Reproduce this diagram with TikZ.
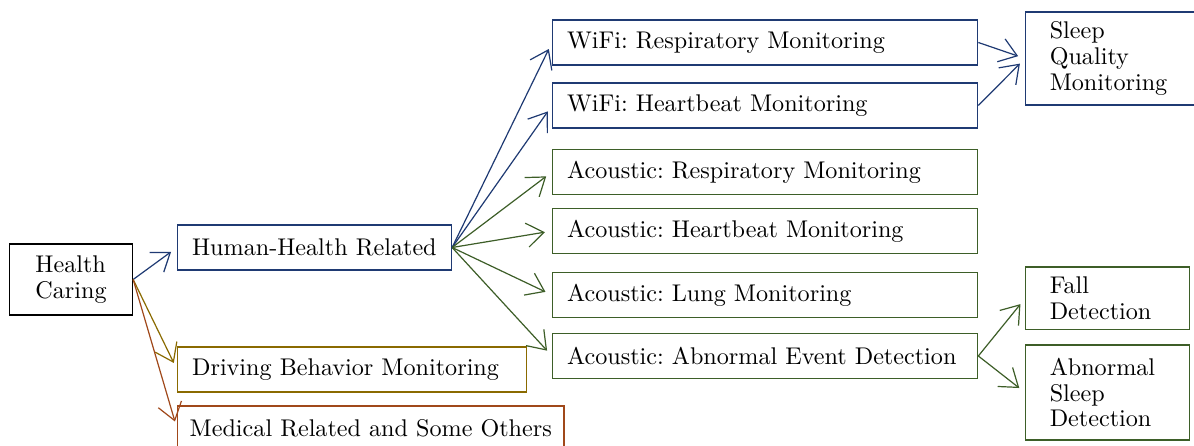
\documentclass[tikz,border=0pt]{standalone}
\usepackage{xcolor}
\usepackage{tikz}
\usetikzlibrary{positioning,arrows.meta}
\definecolor{hblue}{RGB}{31,58,115}
\definecolor{hgreen}{RGB}{61,94,40}
\definecolor{holive}{RGB}{138,106,0}
\definecolor{hbrown}{RGB}{160,72,26}
\begin{document}
\frenchspacing
\begin{tikzpicture}[x=0.414pt, y=-0.414pt, line width=0.5pt,
    box/.style={draw,rectangle,anchor=west,inner xsep=6pt,inner ysep=0pt,minimum height=18.6pt,align=left},
    wide/.style={box,text width=164pt},
    tall/.style={draw,rectangle,anchor=west,inner xsep=10pt,inner ysep=0pt,align=left,font=\fontsize{10}{10.7}\selectfont},
    link/.style={-{Straight Barb[length=7pt,width=10pt]},shorten >=3pt}]
    \useasboundingbox (0,0) rectangle (1194,446);

    \node[tall,text width=29.5pt,inner xsep=10.7pt,minimum height=29.4pt] (hc) at (9,279.5) {Health\\Caring};
    \node[box,hblue,text width=101.4pt] (hh) at (177,247.5) {\textcolor{black}{Human-Health Related}};
    \node[box,holive,text width=132.5pt] (drive) at (177,369.5) {\textcolor{black}{Driving Behavior Monitoring}};
    \node[box,hbrown,inner xsep=5pt] (med) at (177,428.5) {\textcolor{black}{Medical Related and Some Others}};

    \node[wide,hblue] (wr) at (552,42.5) {\textcolor{black}{WiFi: Respiratory Monitoring}};
    \node[wide,hblue] (wh) at (552,105.5) {\textcolor{black}{WiFi: Heartbeat Monitoring}};
    \node[wide,hgreen] (ar) at (552,172) {\textcolor{black}{Acoustic: Respiratory Monitoring}};
    \node[wide,hgreen] (ah) at (552,231) {\textcolor{black}{Acoustic: Heartbeat Monitoring}};
    \node[wide,hgreen] (al) at (552,295) {\textcolor{black}{Acoustic: Lung Monitoring}};
    \node[wide,hgreen] (ae) at (552,356) {\textcolor{black}{Acoustic: Abnormal Event Detection}};

    \node[tall,hblue,text width=52pt,minimum height=38.5pt] (sq) at (1025,58.5) {\textcolor{black}{Sleep\\Quality\\Monitoring}};
    \node[tall,hgreen,text width=48pt,minimum height=26pt] (fall) at (1025,298.5) {\textcolor{black}{Fall\\Detection}};
    \node[tall,hgreen,text width=48pt,minimum height=39.3pt] (asd) at (1025,392.5) {\textcolor{black}{Abnormal\\Sleep\\Detection}};

    \path[link]
    (hc.east) edge[hblue] (hh.west)
    (hc.east) edge[holive] (drive.west)
    (hc.east) edge[hbrown] (med.west)
    (hh.east) edge[hblue] (wr.west)
    (hh.east) edge[hblue] (wh.west)
    (hh.east) edge[hgreen] (ar.west)
    (hh.east) edge[hgreen] (ah.west)
    (hh.east) edge[hgreen] (al.west)
    (hh.east) edge[hgreen] (ae.west)
    (wr.east) edge[hblue] (sq.west)
    (wh.east) edge[hblue] (sq.west)
    (ae.east) edge[hgreen] (fall.west)
    (ae.east) edge[hgreen] (asd.west);
\end{tikzpicture}
\end{document}
